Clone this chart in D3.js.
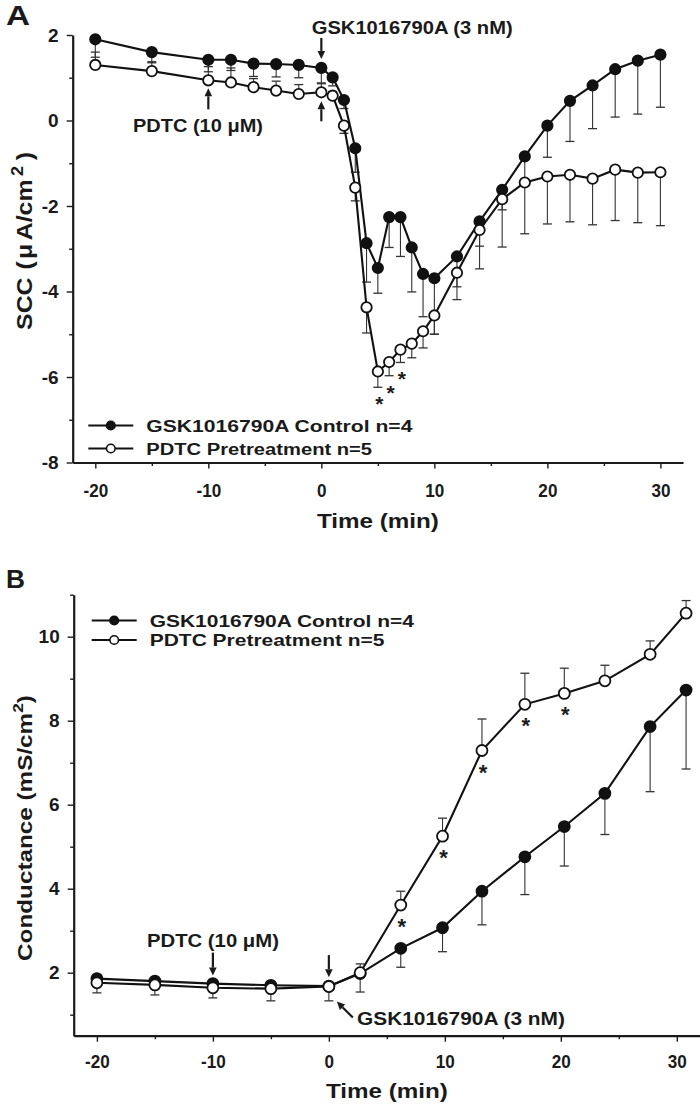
<!DOCTYPE html>
<html><head><meta charset="utf-8">
<script src="https://cdn.jsdelivr.net/npm/d3@7"></script>
<style>
html,body{margin:0;padding:0;background:#fff;}
svg{display:block;}
text{font-family:"Liberation Sans",Arial,Helvetica,sans-serif;font-weight:bold;fill:#1a1a1a;}
</style></head><body>
<svg id="chart" width="700" height="1109"></svg>
<script>
// ---------------- Panel A : SCC ----------------
const timeA = [-20,-15,-10,-8,-6,-4,-2,0,1,2,3,4,5,6,7,8,9,10,12,14,16,18,20,22,24,26,28,30];
const sccControl   = [1.90,1.60,1.42,1.42,1.33,1.32,1.30,1.23,1.01,0.48,-0.65,-2.87,-3.45,-2.26,-2.26,-2.97,-3.59,-3.69,-3.18,-2.36,-1.62,-0.84,-0.12,0.46,0.82,1.20,1.40,1.54];
const sccControlSE = [0.42,0.25,0.28,0.25,0.30,0.30,0.30,0.35,0.20,0.20,0.56,0.91,0.59,0.71,0.92,1.04,1.00,1.31,1.01,1.11,0.47,0.60,0.74,0.95,1.01,1.12,1.25,1.23];
const sccPdtc      = [1.30,1.155,0.94,0.89,0.78,0.70,0.62,0.66,0.58,-0.12,-1.57,-4.37,-5.87,-5.65,-5.36,-5.22,-4.93,-4.56,-3.56,-2.56,-1.84,-1.45,-1.31,-1.27,-1.36,-1.15,-1.22,-1.21];
const sccPdtcSEup  = [0.30,0.22,0.32,0.34,0.20,0.22,0.22,0.20,0.10,0,0,0,0,0,0,0,0,0,0,0,0,0,0,0,0,0,0,0];
const sccPdtcSEdown= [0,0,0,0,0,0,0,0,0,0.18,0.31,0.60,0.37,0.32,0.30,0.33,0.39,0.44,0.33,0.38,1.12,1.20,1.11,1.10,1.08,1.19,1.17,1.25];
const sigTimesA = [5,6,7];
const yTicksA = [-8,-6,-4,-2,0,2];
const yMinorA = [-7,-5,-3,-1,1];

// ---------------- Panel B : Conductance ----------------
const timeB = [-20,-15,-10,-5,0,2.7,6.2,9.8,13.2,16.9,20.3,23.8,27.7,30.8];
const gControl   = [1.86,1.80,1.74,1.70,1.68,1.98,2.58,3.07,3.94,4.76,5.48,6.27,7.86,8.73];
const gControlSE = [0,0,0,0,0,0.44,0.45,0.57,0.80,0.90,0.94,0.98,1.55,1.88];
const gPdtc      = [1.76,1.71,1.64,1.62,1.67,2.00,3.61,5.25,7.29,8.39,8.65,8.95,9.58,10.56];
const gPdtcSEdown= [0.24,0.24,0.24,0.29,0.34,0,0,0,0,0,0,0,0,0];
const gPdtcSEup  = [0,0,0,0,0,0.21,0.33,0.43,0.75,0.74,0.60,0.37,0.32,0.30];
const sigTimesB = [6.2,9.8,13.2,16.9,20.3];
const yTicksB = [2,4,6,8,10];
const yMinorB = [1,3,5,7,9,11];

// shared
const xTicks = [-20,-10,0,10,20,30];
const xMinor = [-15,-5,5,15,25];
const seriesNames = ["GSK1016790A Control n=4","PDTC Pretreatment n=5"];

const svg = d3.select("#chart");
const FONT = '"Liberation Sans",Arial,Helvetica,sans-serif';

// text helper: optional target width -> horizontal scale to fit
function stext(parent, x, y, str, size, target, anchor, rot){
  const g = parent.append("g").attr("transform", `translate(${x},${y})` + (rot ? ` rotate(${rot})` : ""));
  const gs = g.append("g");
  const t = gs.append("text").attr("text-anchor", anchor || "start").style("font-size", size + "px");
  if (Array.isArray(str)) {
    str.forEach(p => {
      const ts = t.append("tspan").text(p.t);
      if (p.size) ts.style("font-size", p.size + "px");
      let dy = 0;
      if (p.sup) dy = -size*0.42;
      if (p.down) dy = size*0.42;
      if (dy) ts.attr("dy", dy);
      if (p.dx) ts.attr("dx", p.dx);
    });
  } else t.text(str);
  if (target) {
    const w = t.node().getBBox().width;
    gs.attr("transform", `scale(${target / w},1)`);
  }
  return t;
}

function arrow(parent, x1, y1, x2, y2){
  const dx = x2-x1, dy = y2-y1, L = Math.hypot(dx,dy), ux = dx/L, uy = dy/L;
  const hl = 8, hw = 3.8;
  const bx = x2 - ux*hl, by = y2 - uy*hl;
  parent.append("line").attr("x1",x1).attr("y1",y1).attr("x2",bx).attr("y2",by)
    .attr("stroke","#1a1a1a").attr("stroke-width",2.2);
  parent.append("path").attr("d",
    `M${x2},${y2}L${bx - uy*hw},${by + ux*hw}L${bx + uy*hw},${by - ux*hw}Z`).attr("fill","#1a1a1a");
}

function drawAxes(g, x, y, yTicks, yMinor, xPad){
  const ax = g.append("g").attr("transform",`translate(0,${y.range()[0]})`)
    .call(d3.axisBottom(x).tickValues(xTicks).tickFormat(d=>String(d)).tickSize(6).tickSizeOuter(0).tickPadding(xPad));
  const axm = g.append("g").attr("transform",`translate(0,${y.range()[0]})`)
    .call(d3.axisBottom(x).tickValues(xMinor).tickFormat("").tickSize(3.5).tickSizeOuter(0));
  axm.select(".domain").remove();
  const ay = g.append("g").attr("transform",`translate(${x.range()[0]},0)`)
    .call(d3.axisLeft(y).tickValues(yTicks).tickFormat(d=>String(d)).tickSize(6).tickSizeOuter(0).tickPadding(8));
  const aym = g.append("g").attr("transform",`translate(${x.range()[0]},0)`)
    .call(d3.axisLeft(y).tickValues(yMinor).tickFormat("").tickSize(3.5).tickSizeOuter(0));
  aym.select(".domain").remove();
  [ax,ay,axm,aym].forEach(a=>{
    a.selectAll(".domain").attr("stroke","#1a1a1a").attr("stroke-width",2.2);
    a.selectAll(".tick line").attr("stroke","#1a1a1a").attr("stroke-width",1.4);
    a.selectAll("text").style("font-family",FONT).style("font-weight","bold").style("font-size","19px").attr("fill","#1a1a1a");
  });
  ax.selectAll("text").attr("transform","scale(0.9,1)");
}

function errorBars(g, x, y, t, v, se, dir){
  t.forEach((tt,i)=>{
    if (!se[i]) return;
    const x0 = x(tt), y0 = y(v[i]), y1 = y(v[i] + dir*se[i]);
    g.append("line").attr("x1",x0).attr("x2",x0).attr("y1",y0).attr("y2",y1)
      .attr("stroke","#333").attr("stroke-width",1.1);
    g.append("line").attr("x1",x0-4.5).attr("x2",x0+4.5).attr("y1",y1).attr("y2",y1)
      .attr("stroke","#333").attr("stroke-width",1.3);
  });
}

function series(g, x, y, t, v, filled, r){
  const line = d3.line().x((d,i)=>x(t[i])).y(d=>y(d));
  g.append("path").datum(v).attr("d",line).attr("fill","none").attr("stroke","#111").attr("stroke-width",2.1);
  g.selectAll(null).data(v).enter().append("circle")
    .attr("cx",(d,i)=>x(t[i])).attr("cy",d=>y(d)).attr("r",r)
    .attr("fill",filled ? "#111" : "#fff").attr("stroke","#111").attr("stroke-width",1.8);
}

function legend(g, x0, rows, widths){
  rows.forEach((ry,i)=>{
    g.append("line").attr("x1",x0).attr("x2",x0+45).attr("y1",ry).attr("y2",ry).attr("stroke","#111").attr("stroke-width",2);
    g.append("circle").attr("cx",x0+22.5).attr("cy",ry).attr("r",4.3)
      .attr("fill", i===0 ? "#111" : "#fff").attr("stroke","#111").attr("stroke-width",1.6);
    stext(g, x0+58, ry+6.3, seriesNames[i], 17, widths[i], "start");
  });
}

// ======== Panel A ========
const gA = svg.append("g");
const xA = d3.scaleLinear([-22,32],[72.7,683]);
const yA = d3.scaleLinear([-8,2],[462.5,35]);
drawAxes(gA, xA, yA, yTicksA, yMinorA, 15);
errorBars(gA, xA, yA, timeA, sccControl, sccControlSE, -1);
errorBars(gA, xA, yA, timeA, sccPdtc, sccPdtcSEup, 1);
errorBars(gA, xA, yA, timeA, sccPdtc, sccPdtcSEdown, -1);
series(gA, xA, yA, timeA, sccControl, true, 5.2);
series(gA, xA, yA, timeA, sccPdtc, false, 5.2);
sigTimesA.forEach(tt=>{
  const i = timeA.indexOf(tt);
  gA.append("text").attr("x", xA(tt)+1.5).attr("y", yA(sccPdtc[i]-sccPdtcSEdown[i]) + 24)
    .attr("text-anchor","middle").style("font-size","21px").text("*");
});
legend(gA, 88.3, [425.5, 448.5], [267, 226]);
stext(gA, 6, 25, "A", 27, 24, "start");
stext(gA, (xA.range()[0]+xA.range()[1])/2, 528, "Time (min)", 21, 122, "middle");
stext(gA, 32, 241, [{t:"SCC"},{t:"(",dx:7},{t:"μ",dx:2},{t:"A/cm",dx:3},{t:"2",sup:true,dx:3,size:16},{t:")",down:true,dx:5}], 22, 178, "middle", -90);
// annotations A
const i0A = timeA.indexOf(0), im10A = timeA.indexOf(-10);
stext(gA, 311.7, 34, "GSK1016790A (3 nM)", 17.5, 201, "start");
arrow(gA, xA(0), yA(sccControl[i0A]) - 30, xA(0), yA(sccControl[i0A]) - 9);
arrow(gA, xA(-10), yA(sccPdtc[im10A]) + 29, xA(-10), yA(sccPdtc[im10A]) + 8);
arrow(gA, xA(0), yA(sccPdtc[i0A]) + 29, xA(0), yA(sccPdtc[i0A]) + 9);
stext(gA, 133, 131.5, "PDTC (10 μM)", 18, 130, "start");

// ======== Panel B ========
const gB = svg.append("g");
const xB = d3.scaleLinear([-22,32],[73.7,700]);
const yB = d3.scaleLinear([0.5,11],[1035.7,594.7]);
drawAxes(gB, xB, yB, yTicksB, yMinorB, 13);
errorBars(gB, xB, yB, timeB, gControl, gControlSE, -1);
errorBars(gB, xB, yB, timeB, gPdtc, gPdtcSEdown, -1);
errorBars(gB, xB, yB, timeB, gPdtc, gPdtcSEup, 1);
series(gB, xB, yB, timeB, gControl, true, 5.5);
series(gB, xB, yB, timeB, gPdtc, false, 5.5);
sigTimesB.forEach(tt=>{
  const i = timeB.indexOf(tt);
  gB.append("text").attr("x", xB(tt)+1).attr("y", yB(gPdtc[i]) + 29)
    .attr("text-anchor","middle").style("font-size","22px").text("*");
});
legend(gB, 91.7, [620.5, 640], [265, 235]);
stext(gB, 6, 588, "B", 26, 19, "start");
stext(gB, (xB.range()[0]+xB.range()[1])/2, 1098, "Time (min)", 21, 122, "middle");
stext(gB, 32, 828, [{t:"Conductance (mS/cm"},{t:"2",sup:true,size:15},{t:")",down:true}], 21, 266, "middle", -90);
const i0B = timeB.indexOf(0), im10B = timeB.indexOf(-10);
stext(gB, 147, 946.5, "PDTC (10 μM)", 18, 132, "start");
arrow(gB, xB(-10), yB(gControl[im10B]) - 31, xB(-10), yB(gControl[im10B]) - 8);
arrow(gB, xB(0), yB(gControl[i0B]) - 31, xB(0), yB(gControl[i0B]) - 9);
arrow(gB, xB(0) + 24, yB(gPdtc[i0B]) + 31, xB(0) + 8, yB(gPdtc[i0B]) + 15);
stext(gB, 357, 1025, "GSK1016790A (3 nM)", 17.5, 208, "start");
</script>
</body></html>
